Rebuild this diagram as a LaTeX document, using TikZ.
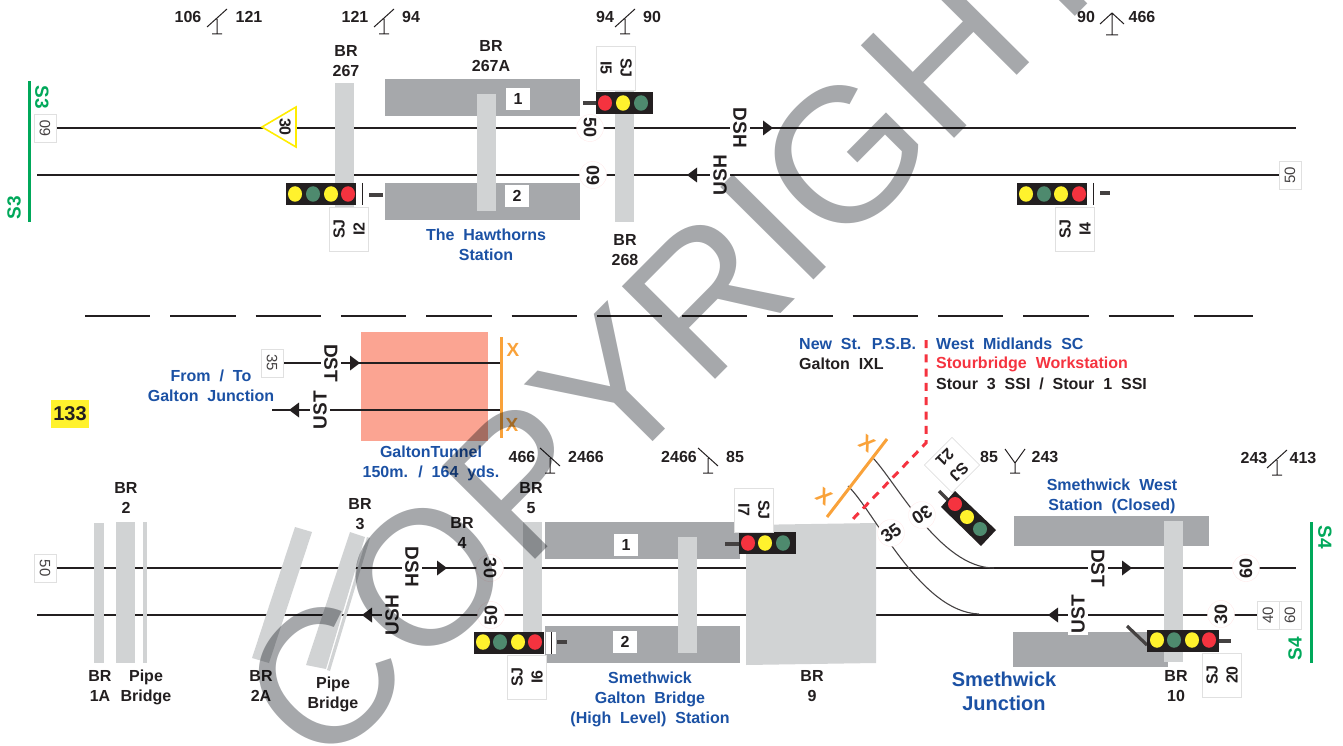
\documentclass[tikz,border=0pt]{standalone}
\usepackage{fontspec}
\setmainfont[WordSpace=2]{Liberation Sans}
\newfontfamily\plainface{Liberation Sans}
\usetikzlibrary{shapes.geometric}
\definecolor{ink}{HTML}{231F20}
\definecolor{deck}{HTML}{A6A8AB}
\definecolor{span}{HTML}{D1D3D4}
\definecolor{mapblue}{HTML}{1B51A4}
\definecolor{mapgreen}{HTML}{00A85A}
\definecolor{mapred}{HTML}{F5333F}
\definecolor{amber}{HTML}{F9A23A}
\definecolor{tunnelfill}{HTML}{FBA492}
\definecolor{lampr}{HTML}{F5333F}
\definecolor{lampy}{HTML}{FFF22D}
\definecolor{lampg}{HTML}{4E8A6E}
\tikzset{
  lbl/.style={text=ink,align=center,inner sep=0pt,font=\bfseries\fontsize{16}{20}\selectfont},
  bluelbl/.style={lbl,text=mapblue},
  greenlbl/.style={lbl,text=mapgreen,font=\bfseries\fontsize{19}{20}\selectfont},
  amberlbl/.style={lbl,text=amber,font=\bfseries\fontsize{19}{19}\selectfont},
  track/.style={ink,line width=1.4pt},
  runtag/.style={lbl,fill=white,inner xsep=2pt,inner ysep=3pt,font=\bfseries\fontsize{19}{19}\selectfont},
  limit/.style={lbl,circle,fill=white,draw=red!8,line width=.4pt,minimum size=27pt,font=\bfseries\fontsize{18}{18}\selectfont},
  endtag/.style={text=ink!85,fill=white,draw=black!12,line width=.7pt,inner sep=0pt,minimum width=28pt,minimum height=22pt,font=\plainface\fontsize{15}{15}\selectfont},
  sjbox/.style={lbl,fill=white,draw=black!12,line width=.7pt,minimum width=44pt,minimum height=39pt},
  platnum/.style={lbl,fill=white,minimum width=24pt,minimum height=22pt},
  lamp/.style={ellipse,inner sep=0pt,minimum width=14pt,minimum height=15.5pt},
  rlamp/.style={circle,inner sep=0pt,minimum size=14pt},
  casing/.style={fill=ink},
  stub/.style={draw=ink!85,line width=3.2pt},
  post/.style={draw=ink,line width=1pt}
}
\newcommand{\postfwd}[2]{\draw[post] (#1-10,#2-7) -- (#1+10,#2-25) (#1,#2-15) -- (#1,#2) (#1-5,#2) -- (#1+5,#2);}
\newcommand{\postback}[2]{\draw[post] (#1-10,#2-25) -- (#1+10,#2-7) (#1,#2-15) -- (#1,#2) (#1-5,#2) -- (#1+5,#2);}
\newcommand{\postup}[2]{\draw[post] (#1-12,#2-11) -- (#1,#2-22) -- (#1+12,#2-11) (#1,#2-22) -- (#1,#2) (#1-6,#2) -- (#1+6,#2);}
\newcommand{\postfork}[2]{\draw[post] (#1-10,#2-24) -- (#1,#2-10) -- (#1+10,#2-24) (#1,#2-10) -- (#1,#2) (#1-5,#2) -- (#1+5,#2);}
\newcommand{\tipright}[2]{\fill[ink] (#1,#2-7.5) -- (#1+10,#2) -- (#1,#2+7.5) -- cycle;}
\newcommand{\tipleft}[2]{\fill[ink] (#1,#2-7.5) -- (#1-10,#2) -- (#1,#2+7.5) -- cycle;}
\begin{document}
\begin{tikzpicture}[x=1pt,y=-1pt]
  \useasboundingbox (0,0) rectangle (1343,746);

  \fill[deck] (385,79) rectangle (580,116);
  \fill[deck] (385,183) rectangle (580,220);
  \fill[deck] (545,522) rectangle (740,559);
  \fill[deck] (545,626) rectangle (740,663);
  \fill[deck] (1014,516) rectangle (1209,546);
  \fill[deck] (1013,632) rectangle (1168,667);
  \fill[tunnelfill] (361,332) rectangle (488,441);

  \coordinate (upDownW) at (57,128);
  \coordinate (upDownE) at (1296,128);
  \coordinate (upUpW) at (37,175);
  \coordinate (upUpE) at (1280,175);
  \coordinate (lowDownW) at (57,568);
  \coordinate (lowDownE) at (1296,568);
  \coordinate (lowUpW) at (37,615);
  \coordinate (lowUpE) at (1257,615);
  \coordinate (tunDownW) at (284,363);
  \coordinate (tunDownE) at (501,363);
  \coordinate (tunUpW) at (272,410);
  \coordinate (tunUpE) at (501,410);
  \draw[track] (upDownW) -- (upDownE);
  \draw[track] (upUpW) -- (upUpE);
  \draw[track] (lowDownW) -- (lowDownE);
  \draw[track] (lowUpW) -- (lowUpE);
  \draw[track] (tunDownW) -- (tunDownE);
  \draw[track] (tunUpW) -- (tunUpE);

  \fill[span] (335,83) rectangle (354,207);
  \fill[span] (477,94) rectangle (496,211);
  \fill[span] (615,89) rectangle (634,222);
  \fill[span] (94,523) rectangle (104,663);
  \fill[span] (116,522) rectangle (135,663);
  \fill[span] (143,522) rectangle (147,663);
  \fill[span] (295,527) -- (312,532) -- (269,663) -- (252,658) -- cycle;
  \fill[span] (350,532) -- (365,537) -- (326,669) -- (306,665) -- cycle;
  \fill[span] (367,537) -- (370,538) -- (330,671) -- (327,670) -- cycle;
  \fill[span] (523,522) rectangle (542,632);
  \fill[span] (678,537) rectangle (697,653);
  \fill[span] (746,525) -- (876,523) -- (876,663) -- (746,665) -- cycle;
  \fill[span] (1164,521) rectangle (1183,662);

  \coordinate (westA) at (872,457);
  \coordinate (westB) at (994,568);
  \coordinate (eastA) at (848,486);
  \coordinate (eastB) at (979,614);
  \draw[ink!85,line width=1.1pt] (westA) .. controls (895,480) and (940,568) .. (westB);
  \draw[ink!85,line width=1.1pt] (eastA) .. controls (875,512) and (920,612) .. (eastB);

  \draw[ink,line width=1.2pt,dash pattern=on 65.3pt off 20pt] (85,316) -- (1253,316);
  \draw[mapred,line width=3pt,dash pattern=on 8pt off 6.3pt] (926,340) -- (926,443) -- (851,521);
  \draw[amber,line width=3pt] (501,337) -- (501,438);
  \draw[amber,line width=3pt] (887,439) -- (827,517);
  \fill[mapgreen] (28,81) rectangle (31,222);
  \fill[mapgreen] (1310,522) rectangle (1313,663);

  \foreach \n/\x/\y/\t in {a/188/17/106,b/249/17/121,c/355/17/121,d/411/17/94,e/605/17/94,f/652/17/90,g/1086/17/90,h/1142/17/466,i/522/457/466,j/586/457/2466,k/679/457/2466,l/735/457/85,m/989/457/85,n/1045/457/243,o/1254/458/243,p/1303/458/413}
    \node[lbl] (mile\n) at (\x,\y) {\t};
  \postfwd{217}{34}
  \postfwd{384}{34}
  \postfwd{625}{34}
  \postup{1112}{35}
  \postback{550}{473}
  \postback{708}{473}
  \postfork{1015}{473}
  \postfwd{1277}{475}

  \node[greenlbl,rotate=-90] (s3top) at (42,97) {S3};
  \node[greenlbl,rotate=90] (s3low) at (14,208) {S3};
  \node[greenlbl,rotate=-90] (s4top) at (1325,537) {S4};
  \node[greenlbl,rotate=90] (s4low) at (1295,649) {S4};

  \node[endtag,rotate=90] (end60) at (45,128) {60};
  \node[endtag,rotate=90] (end50a) at (1290,175) {50};
  \node[endtag,rotate=-90] (end50b) at (45,568) {50};
  \node[endtag,rotate=-90] (end35) at (272,363) {35};
  \node[endtag,rotate=90] (end40) at (1268,615) {40};
  \node[endtag,rotate=90] (end60b) at (1290,615) {60};

  \node[lbl] (br267) at (346,61) {BR\\267};
  \node[lbl] (br267a) at (491,56) {BR\\267A};
  \node[lbl] (br268) at (625,250) {BR\\268};
  \node[lbl] (br2) at (126,498) {BR\\2};
  \node[lbl] (br1a) at (100,686) {BR\\1A};
  \node[lbl] (pipea) at (146,687) {Pipe\\Bridge};
  \node[lbl] (br2a) at (261,686) {BR\\2A};
  \node[lbl] (pipeb) at (333,694) {Pipe\\Bridge};
  \node[lbl] (br3) at (360,514) {BR\\3};
  \node[lbl] (br4) at (462,533) {BR\\4};
  \node[lbl] (br5) at (531,498) {BR\\5};
  \node[lbl] (br9) at (812,686) {BR\\9};
  \node[lbl] (br10) at (1176,686) {BR\\10};

  \node[bluelbl] (hawthorns) at (486,245) {The Hawthorns\\Station};
  \node[bluelbl] (fromto) at (211,386) {From / To\\Galton Junction};
  \node[bluelbl] (tunnel) at (431,463) {GaltonTunnel\\150m. / 164 yds.};
  \node[bluelbl] (galton) at (650,699) {Smethwick\\Galton Bridge\\(High Level) Station};
  \node[bluelbl] (west) at (1112,496) {Smethwick West\\Station (Closed)};
  \node[bluelbl,font=\bfseries\fontsize{20}{24}\selectfont] (junction) at (1004,691) {Smethwick\\Junction};
  \node[bluelbl,anchor=west] (psb) at (799,344) {New St. P.S.B.};
  \node[lbl,anchor=west] (ixl) at (799,364) {Galton IXL};
  \node[bluelbl,anchor=west] (wmsc) at (936,344) {West Midlands SC};
  \node[lbl,text=mapred,anchor=west] (workstation) at (936,364) {Stourbridge Workstation};
  \node[lbl,anchor=west] (ssi) at (936,384) {Stour 3 SSI / Stour 1 SSI};
  \node[lbl,fill=lampy,minimum width=38pt,minimum height=28pt,font=\bfseries\fontsize{20}{20}\selectfont] (area) at (70,414) {133};
  \node[amberlbl] (xa) at (513,350) {X};
  \node[amberlbl] (xb) at (512,425) {X};
  \node[amberlbl,rotate=-35,font=\bfseries\fontsize{21}{21}\selectfont] (xc) at (867,444) {X};
  \node[amberlbl,rotate=-35,font=\bfseries\fontsize{21}{21}\selectfont] (xd) at (824,497) {X};

  \node[platnum] (plat1a) at (518,99) {1};
  \node[platnum] (plat2a) at (517,196) {2};
  \node[platnum] (plat1b) at (626,545) {1};
  \node[platnum] (plat2b) at (625,642) {2};

  \node[runtag,rotate=-90] (dsha) at (740,128) {DSH};
  \node[runtag,rotate=90] (usha) at (720,175) {USH};
  \node[runtag,rotate=-90] (dst) at (331,363) {DST};
  \node[runtag,rotate=90] (ust) at (320,410) {UST};
  \node[runtag,rotate=-90] (dshb) at (412,567) {DSH};
  \node[runtag,rotate=90] (ushb) at (392,615) {USH};
  \node[runtag,rotate=-90] (dstb) at (1098,568) {DST};
  \node[runtag,rotate=90] (ustb) at (1078,614) {UST};
  \tipright{763}{128}
  \tipleft{697}{175}
  \tipright{350}{363}
  \tipleft{299}{410}
  \tipright{437}{568}
  \tipleft{372}{615}
  \tipright{1122}{568}
  \tipleft{1058}{615}

  \node[limit,rotate=-90] (lim50a) at (590,128) {50};
  \node[limit,rotate=90] (lim60a) at (593,175) {60};
  \node[limit,rotate=-90] (lim30a) at (490,568) {30};
  \node[limit,rotate=90] (lim50b) at (491,615) {50};
  \node[limit,rotate=90] (lim60b) at (1246,568) {60};
  \node[limit,rotate=90] (lim30b) at (1221,614) {30};
  \node[limit,rotate=213] (lim30c) at (922,515) {30};
  \node[limit,rotate=35] (lim35) at (891,533) {35};

  \draw[yellow!95!orange,fill=white,line width=1.6pt] (262,127) -- (296,107) -- (296,147) -- cycle;
  \node[lbl,rotate=-90] (warn30) at (285,127) {30};

  \draw[stub] (583,103) -- (596,103);
  \fill[casing] (596,92) rectangle (653,114);
  \foreach \x/\c in {605/lampr,623/lampy,641/lampg}
    \node[lamp,fill=\c] (i5\c) at (\x,103) {};
  \node[sjbox,rotate=-90] (sji5) at (616,68) {SJ\\I5};

  \fill[casing] (286,183) rectangle (356,205);
  \fill[white] (358,183) rectangle (368,205);
  \draw[ink,line width=.8pt] (362,183) -- (362,205);
  \draw[stub] (369,195) -- (383,195);
  \foreach \x/\c/\n in {295/lampy/a,313/lampg/b,331/lampy/c,348/lampr/d}
    \node[lamp,fill=\c] (i2\n) at (\x,194) {};
  \node[sjbox,rotate=90] (sji2) at (349,229) {SJ\\I2};

  \fill[casing] (1017,183) rectangle (1087,205);
  \fill[white] (1089,183) rectangle (1099,205);
  \draw[ink,line width=.8pt] (1093,183) -- (1093,205);
  \draw[stub] (1100,193) -- (1110,193);
  \foreach \x/\c/\n in {1026/lampy/a,1044/lampg/b,1061/lampy/c,1079/lampr/d}
    \node[lamp,fill=\c] (i4\n) at (\x,194) {};
  \node[sjbox,rotate=90] (sji4) at (1075,229) {SJ\\I4};

  \fill[casing] (474,632) rectangle (544,654);
  \fill[white] (546,632) rectangle (556,654);
  \draw[ink,line width=.8pt] (551,632) -- (551,654);
  \draw[stub] (557,642) -- (567,642);
  \foreach \x/\c/\n in {483/lampy/a,500/lampg/b,518/lampy/c,535/lampr/d}
    \node[lamp,fill=\c] (i6\n) at (\x,642) {};
  \node[sjbox,rotate=90] (sji6) at (527,677) {SJ\\I6};

  \draw[stub] (725,544) -- (739,544);
  \fill[casing] (739,532) rectangle (796,554);
  \foreach \x/\c in {748/lampr,765/lampy,783/lampg}
    \node[lamp,fill=\c] (i7\c) at (\x,543) {};
  \node[sjbox,rotate=-90] (sji7) at (754,510) {SJ\\I7};

  \draw[stub] (939,491) -- (948,500);
  \fill[casing] (955,491) -- (996,530) -- (981,546) -- (941,507) -- cycle;
  \foreach \x/\y/\c in {955/504/lampr,967/517/lampy,980/529/lampg}
    \node[rlamp,fill=\c] (s21\c) at (\x,\y) {};
  \node[sjbox,rotate=225,minimum width=39pt,minimum height=39pt] (sj21) at (952,465) {SJ\\21};

  \draw[stub] (1127,626) -- (1147,645);
  \draw[stub] (1219,641) -- (1231,641);
  \fill[casing] (1147,630) rectangle (1219,652);
  \foreach \x/\c/\n in {1157/lampy/a,1174/lampg/b,1192/lampy/c,1209/lampr/d}
    \node[lamp,fill=\c] (i20\n) at (\x,640) {};
  \node[sjbox,rotate=90] (sj20) at (1222,675) {SJ\\20};

  \begin{scope}[blend mode=multiply]
    \node[inner sep=0pt,text=deck,rotate=45.2,font=\plainface\fontsize{191}{191}\selectfont] (copyright) at (676,325) {COPYRIGHT};
  \end{scope}
\end{tikzpicture}
\end{document}
